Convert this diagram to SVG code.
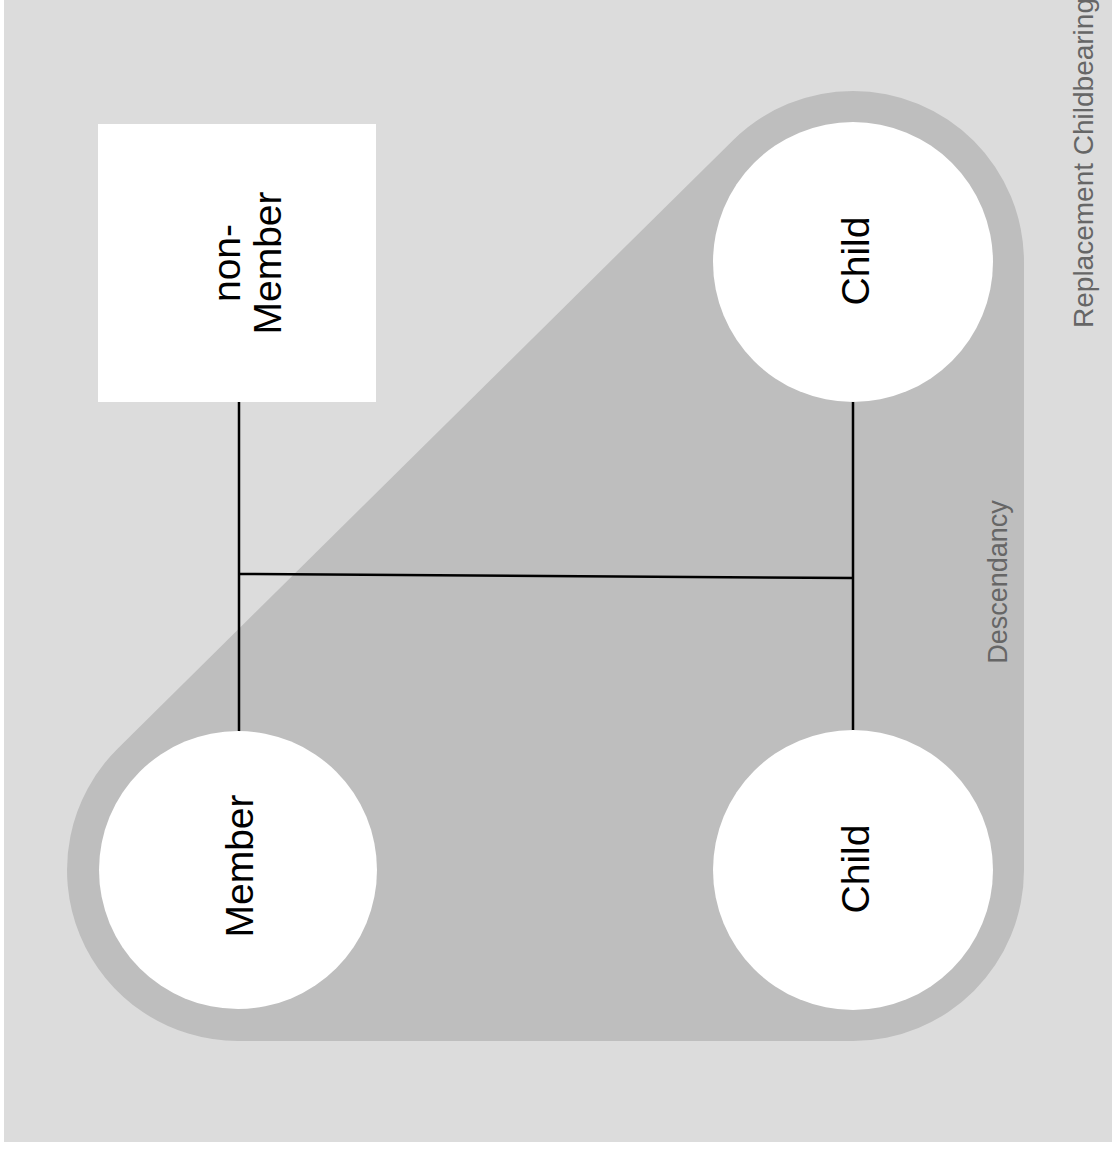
<svg xmlns="http://www.w3.org/2000/svg" width="1112" height="1150" viewBox="0 0 1112 1150">
<style>
.node{fill:#ffffff}
.lbl{font-family:"Liberation Sans",Arial,sans-serif;fill:#000;text-anchor:middle}
.note{font-family:"Liberation Sans",Arial,sans-serif;fill:#666;text-anchor:middle}
.edge{stroke:#000;stroke-width:2.5;fill:none}
</style>
<rect x="4" y="0" width="1108" height="1142" fill="#dcdcdc"/>
<g id="descendancy">
<path d="M238,1041 L853,1041 A171,171 0 0 0 1024,870 L1024,262 A171,171 0 0 0 853,91 A171,171 0 0 0 732.8,140.4 L117.8,748.4 A171,171 0 0 0 238,1041 Z" fill="#bebebe"/>
<text class="note" font-size="27" transform="translate(1007,582) rotate(-90)">Descendancy</text>
</g>
<text id="title" class="note" font-size="28" transform="translate(1093,163) rotate(-90)">Replacement Childbearing</text>
<g id="connectors">
<line class="edge" x1="239" y1="402" x2="239" y2="732"/>
<line class="edge" x1="853" y1="400" x2="853" y2="732"/>
<line class="edge" x1="239" y1="574" x2="853" y2="578"/>
</g>
<g id="nonmember">
<rect class="node" x="98" y="124" width="278" height="278"/>
<text class="lbl" font-size="39" transform="translate(240,263) rotate(-90)">non-</text>
<text class="lbl" font-size="39" transform="translate(281,263) rotate(-90)">Member</text>
</g>
<g id="member">
<circle class="node" cx="238" cy="870" r="139"/>
<text class="lbl" font-size="39" transform="translate(253,866) rotate(-90)">Member</text>
</g>
<g id="child1">
<circle class="node" cx="853" cy="262" r="140"/>
<text class="lbl" font-size="39" transform="translate(869,261) rotate(-90)">Child</text>
</g>
<g id="child2">
<circle class="node" cx="853" cy="870" r="140"/>
<text class="lbl" font-size="39" transform="translate(869,869) rotate(-90)">Child</text>
</g>
</svg>
